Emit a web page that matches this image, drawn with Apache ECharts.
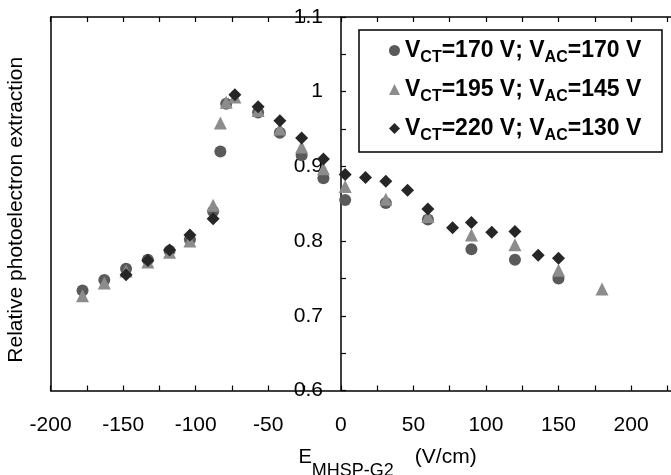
<!DOCTYPE html>
<html>
<head>
<meta charset="utf-8">
<script src="https://cdn.jsdelivr.net/npm/echarts@6/dist/echarts.min.js"></script>
<style>html,body{margin:0;padding:0;background:#fff}#c{width:671px;height:475px}</style>
</head>
<body>
<div id="c"></div>
<script>
// Data
var seriesNames = ['V_CT=170 V; V_AC=170 V', 'V_CT=195 V; V_AC=145 V', 'V_CT=220 V; V_AC=130 V'];
var xCircle = [-178,-163,-148,-133,-118,-104,-88,-83,-79,-57,-42,-27,-12,3,31,60,90,120,150];
var yCircle = [0.734,0.748,0.763,0.775,0.787,0.802,0.840,0.920,0.984,0.972,0.945,0.915,0.884,0.855,0.851,0.829,0.789,0.775,0.750];
var xTriangle = [-178,-163,-148,-133,-118,-104,-88,-83,-79,-73,-57,-42,-27,-12,3,31,60,90,120,150,180];
var yTriangle = [0.727,0.744,0.760,0.772,0.785,0.800,0.848,0.958,0.986,0.993,0.975,0.950,0.926,0.897,0.873,0.856,0.833,0.808,0.795,0.761,0.736];
var xDiamond = [-148,-133,-118,-104,-88,-73,-57,-42,-27,-12,3,17,31,46,60,77,90,104,120,136,150];
var yDiamond = [0.755,0.774,0.788,0.808,0.830,0.996,0.980,0.961,0.938,0.910,0.889,0.885,0.880,0.868,0.843,0.818,0.825,0.812,0.813,0.781,0.777];
var xTicks = [-200, 250, 50];   // min, max, label step
var yTicks = [0.6, 1.1, 0.1];

function zip(xs, ys) { return xs.map(function (x, i) { return [x, ys[i]]; }); }

var FONT = 'Liberation Sans, Arial, Helvetica, sans-serif';
var chart = echarts.init(document.getElementById('c'), null, {renderer: 'canvas'});

var GRID_LEFT = 50.6, GRID_W = 653, ZERO_X = 341;

var legendRich = {
  m: {fontSize: 23, fontWeight: 'bold', fontFamily: FONT, color: '#000'},
  s: {fontSize: 16, fontWeight: 'bold', fontFamily: FONT, color: '#000', padding: [15, 0, 0, 0]}
};

function legendFmt(name) {
  var parts = name.split('; ');
  var out = parts.map(function (p) {
    var m = p.match(/^V_(\w+)(=.*)$/);
    return '{m|V}{s|' + m[1] + '}{m|' + m[2] + '}';
  });
  return out.join('{m|; }');
}

var axisLineStyle = {color: '#000', width: 1.5};
var tickStyle = {color: '#000', width: 1.2};

var option = {
  backgroundColor: '#fff',
  animation: false,
  grid: {left: GRID_LEFT, top: 17, width: GRID_W, height: 373.5, containLabel: false, outerBoundsMode: 'none'},
  legend: {
    orient: 'vertical',
    left: 389,
    top: 39,
    padding: 0,
    itemGap: 12,
    itemWidth: 11,
    itemHeight: 11,
    formatter: legendFmt,
    textStyle: {rich: legendRich, fontFamily: FONT},
    data: seriesNames
  },
  graphic: [{
    type: 'rect',
    shape: {x: 359, y: 30, width: 303, height: 122},
    style: {fill: 'transparent', stroke: '#000', lineWidth: 1.5},
    z: 10
  }],
  xAxis: [{
    type: 'value',
    position: 'bottom',
    min: xTicks[0], max: xTicks[1], interval: xTicks[2],
    axisLine: {onZero: false, lineStyle: axisLineStyle},
    axisTick: {inside: true, length: 5, lineStyle: tickStyle},
    minorTick: {show: true, splitNumber: 2, length: 5, lineStyle: tickStyle},
    splitLine: {show: false},
    axisLabel: {fontSize: 21, color: '#000', fontFamily: FONT, margin: 24},
    name: '{e|E}{s|MHSP-G2}{u|(V/cm)}',
    nameLocation: 'middle',
    nameGap: 44,
    nameTextStyle: {
      padding: [0, 0, 0, 21],
      rich: {
        e: {fontSize: 20, fontFamily: FONT, color: '#000'},
        s: {fontSize: 18, fontFamily: FONT, color: '#000', padding: [28, 21, 0, 0]},
        u: {fontSize: 21, fontFamily: FONT, color: '#000'}
      }
    }
  }, {
    type: 'value',
    position: 'top',
    min: xTicks[0], max: xTicks[1], interval: xTicks[2],
    axisLine: {onZero: false, lineStyle: axisLineStyle},
    axisTick: {inside: true, length: 5, lineStyle: tickStyle},
    minorTick: {show: true, splitNumber: 2, length: 5, lineStyle: tickStyle},
    splitLine: {show: false},
    axisLabel: {show: false}
  }],
  yAxis: [{
    type: 'value',
    position: 'left',
    offset: -(ZERO_X - GRID_LEFT),
    min: yTicks[0], max: yTicks[1], interval: yTicks[2],
    axisLine: {show: true, onZero: false, lineStyle: axisLineStyle},
    axisTick: {show: true, inside: true, length: 5, lineStyle: tickStyle},
    minorTick: {show: true, splitNumber: 2, length: 5, lineStyle: tickStyle},
    splitLine: {show: false},
    axisLabel: {fontSize: 21, color: '#000', fontFamily: FONT, margin: 18}
  }, {
    type: 'value',
    position: 'left',
    offset: 0,
    min: yTicks[0], max: yTicks[1], interval: yTicks[2],
    axisLine: {show: true, onZero: false, lineStyle: axisLineStyle},
    axisTick: {show: false},
    splitLine: {show: false},
    axisLabel: {show: false},
    name: 'Relative photoelectron extraction',
    nameLocation: 'middle',
    nameGap: 24,
    nameTextStyle: {fontSize: 21, color: '#000', fontFamily: FONT, padding: [0, 12, 0, 0]}
  }],
  series: [{
    name: seriesNames[0], type: 'scatter', symbol: 'circle', symbolSize: 12,
    itemStyle: {color: '#5a5a5a', opacity: 1},
    data: zip(xCircle, yCircle)
  }, {
    name: seriesNames[1], type: 'scatter', symbol: 'triangle', symbolSize: 13,
    itemStyle: {color: '#8c8c8c', opacity: 1},
    data: zip(xTriangle, yTriangle)
  }, {
    name: seriesNames[2], type: 'scatter', symbol: 'diamond', symbolSize: 13,
    itemStyle: {color: '#262626', opacity: 1},
    data: zip(xDiamond, yDiamond)
  }]
};
chart.setOption(option);
</script>
</body>
</html>
